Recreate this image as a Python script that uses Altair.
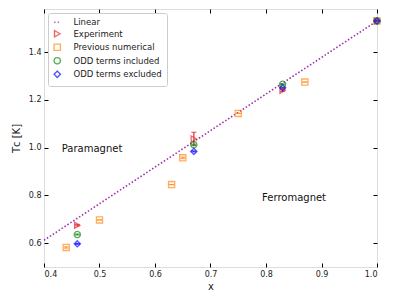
import altair as alt
import pandas as pd

# ---- data ----
lin_x = [0.4, 1.0]
lin_y = [0.612, 1.53]

exp_x = [0.46, 0.67, 0.83, 1.0]
exp_y = [0.675, 1.036, 1.24, 1.53]
exp_err = [0.003, 0.028, 0.005, 0.003]

prev_x = [0.44, 0.50, 0.63, 0.65, 0.75, 0.87, 1.0]
prev_y = [0.582, 0.697, 0.845, 0.957, 1.143, 1.274, 1.53]
prev_err = [0.003, 0.0, 0.0, 0.003, 0.0, 0.0, 0.0]

incl_x = [0.46, 0.67, 0.83, 1.0]
incl_y = [0.636, 1.012, 1.265, 1.53]
incl_err = [0.002, 0.002, 0.002, 0.002]

excl_x = [0.46, 0.67, 0.83, 1.0]
excl_y = [0.597, 0.984, 1.25, 1.53]
excl_err = [0.002, 0.002, 0.002, 0.002]

annot_x = [0.432, 0.793]
annot_y = [0.995, 0.79]
annot_text = ["Paramagnet", "Ferromagnet"]

series_names = ["Linear", "Experiment", "Previous numerical", "ODD terms included", "ODD terms excluded"]
series_colors = ["#a02cb0", "#e8262a", "#ff8c1a", "#1a8a1a", "#0a0aff"]
series_shapes = ["stroke", "triangle-right", "square", "circle", "diamond"]
series_dash = [[1.5, 2], [1, 0], [1, 0], [1, 0], [1, 0]]

# ---- build tables ----
rows = []
for name, xs, ys, es in [
    ("Experiment", exp_x, exp_y, exp_err),
    ("Previous numerical", prev_x, prev_y, prev_err),
    ("ODD terms included", incl_x, incl_y, incl_err),
    ("ODD terms excluded", excl_x, excl_y, excl_err),
]:
    for x, y, e in zip(xs, ys, es):
        rows.append({"series": name, "x": x, "y": y, "lo": y - e, "hi": y + e})
pts = pd.DataFrame(rows)
lin = pd.DataFrame({"series": "Linear", "x": lin_x, "y": lin_y})
ann = pd.DataFrame({"x": annot_x, "y": annot_y, "t": annot_text})

xscale = alt.Scale(domain=[0.4, 1.0], nice=False, zero=False)
yscale = alt.Scale(domain=[0.5, 1.58], nice=False, zero=False)
cscale = alt.Scale(domain=series_names, range=series_colors)
sscale = alt.Scale(domain=series_names, range=series_shapes)
dscale = alt.Scale(domain=series_names, range=series_dash)

xticks = [0.4, 0.5, 0.6, 0.7, 0.8, 0.9, 1.0]
yticks = [0.6, 0.8, 1.0, 1.2, 1.4]

ax_common = dict(domain=False, tickSize=4, offset=-4, tickColor="black", grid=False,
                 labelFont="DejaVu Sans", labelFontSize=8, labelColor="#222",
                 titleFont="DejaVu Sans", titleFontSize=10, titleFontWeight="normal", titleColor="#222")

x_bottom = alt.Axis(orient="bottom", values=xticks, format=".1f", labelPadding=3, title="x",
                    titlePadding=3, **ax_common)
y_left = alt.Axis(orient="left", values=yticks, format=".1f", labelPadding=3, title="Tᴄ [K]",
                  titlePadding=7, **ax_common)
x_top = alt.Axis(orient="top", values=xticks, labels=False, title=None, **ax_common)
y_right = alt.Axis(orient="right", values=yticks, labels=False, title=None, **ax_common)

legend = alt.Legend(title=None, orient="top-left", offset=4, labelFont="DejaVu Sans",
                    labelFontSize=8.5, labelColor="#222", symbolSize=40, symbolStrokeWidth=1.4,
                    symbolFillColor="transparent", rowPadding=0.5, labelOffset=12,
                    fillColor="white", strokeColor="#cccccc", padding=5, cornerRadius=2)

X = alt.X("x:Q", scale=xscale, axis=x_bottom)
Y = alt.Y("y:Q", scale=yscale, axis=y_left)
C = alt.Color("series:N", scale=cscale, legend=legend)

base_line = alt.Chart(lin).mark_line(strokeWidth=1.6).encode(
    x=X, y=Y, color=C,
    strokeDash=alt.StrokeDash("series:N", scale=dscale, legend=legend),
)

points = alt.Chart(pts).mark_point(filled=False, size=38, strokeWidth=1.3).encode(
    x=X, y=Y, color=C,
    shape=alt.Shape("series:N", scale=sscale, legend=legend),
    strokeDash=alt.StrokeDash("series:N", scale=dscale, legend=legend),
)

bars = alt.Chart(pts).mark_rule(strokeWidth=1.2).encode(
    x=X, y=alt.Y("lo:Q", scale=yscale, axis=y_left), y2="hi:Q", color=C,
)
caps_lo = alt.Chart(pts).mark_point(shape="stroke", filled=False, size=25, strokeWidth=1.2).encode(
    x=X, y=alt.Y("lo:Q", scale=yscale, axis=y_left), color=C,
)
caps_hi = alt.Chart(pts).mark_point(shape="stroke", filled=False, size=25, strokeWidth=1.2).encode(
    x=X, y=alt.Y("hi:Q", scale=yscale, axis=y_left), color=C,
)

texts = alt.Chart(ann).mark_text(align="left", baseline="middle", font="DejaVu Sans",
                                 fontSize=10, color="#111").encode(
    x=X, y=Y, text="t:N",
)

main = alt.layer(base_line, bars, caps_lo, caps_hi, points, texts)

frame = alt.Chart(lin).mark_line(opacity=0).encode(
    x=alt.X("x:Q", scale=xscale, axis=x_top),
    y=alt.Y("y:Q", scale=yscale, axis=y_right),
)

chart = alt.layer(main, frame).resolve_axis(
    x="independent", y="independent"
).properties(
    width=333, height=258,
    autosize=alt.AutoSizeParams(type="none"),
    padding={"left": 36, "top": 1, "right": 9, "bottom": 29},
).configure_view(stroke="black", strokeWidth=1).configure(background="white")

chart.save("out.html", embed_options={"renderer": "svg", "actions": False})
